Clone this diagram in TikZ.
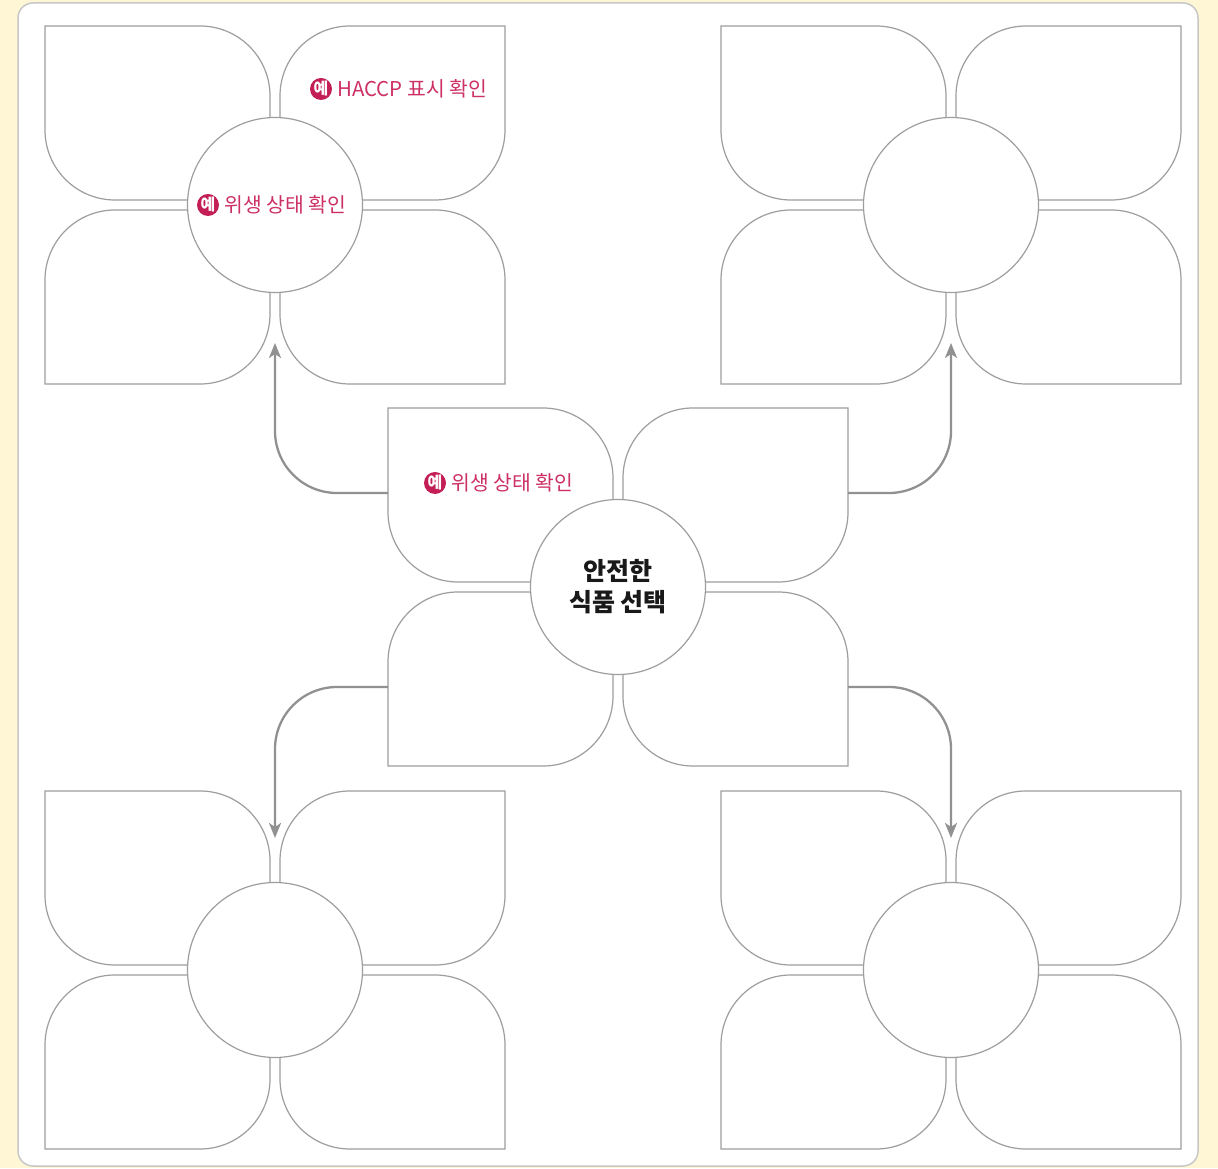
\documentclass[tikz,border=0pt]{standalone}
\usepackage{fontspec}
\setmainfont{Noto Sans CJK KR}
\usetikzlibrary{arrows.meta}
\definecolor{bgyellow}{RGB}{255,246,214}
\definecolor{petalgray}{RGB}{158,158,158}
\definecolor{flowgray}{RGB}{145,145,145}
\definecolor{crimson}{RGB}{196,30,86}
\definecolor{notepink}{RGB}{204,48,100}
\definecolor{ink}{RGB}{25,25,25}
\tikzset{
  petal/.style={draw=petalgray, line width=1.2pt, fill=white},
  hub/.style={circle, draw=petalgray, line width=1.2pt, fill=white, minimum size=175pt, inner sep=0pt},
  flow/.style={draw=flowgray, line width=2.3pt, rounded corners=62pt, -{Stealth[length=15pt,width=12pt,inset=4pt]}},
  badge/.style={circle, fill=crimson, text=white, inner sep=0pt, minimum size=22pt, font=\fontsize{16}{16}\selectfont\bfseries},
  note/.style={text=notepink, anchor=west, inner sep=0pt, font=\fontsize{20.4}{21}\selectfont},
  title/.style={text=ink, align=center, font=\fontsize{25}{31}\selectfont\bfseries}
}
\newcommand\flower[3]{%
  \draw[petal] ({#2-230},{#3+179}) -- ({#2-75},{#3+179}) arc[start angle=90,end angle=0,radius=70] -- ({#2-5},{#3+5}) -- ({#2-160},{#3+5}) arc[start angle=270,end angle=180,radius=70] -- cycle;
  \draw[petal] ({#2+230},{#3+179}) -- ({#2+75},{#3+179}) arc[start angle=90,end angle=180,radius=70] -- ({#2+5},{#3+5}) -- ({#2+160},{#3+5}) arc[start angle=270,end angle=360,radius=70] -- cycle;
  \draw[petal] ({#2-230},{#3-179}) -- ({#2-75},{#3-179}) arc[start angle=270,end angle=360,radius=70] -- ({#2-5},{#3-5}) -- ({#2-160},{#3-5}) arc[start angle=90,end angle=180,radius=70] -- cycle;
  \draw[petal] ({#2+230},{#3-179}) -- ({#2+75},{#3-179}) arc[start angle=270,end angle=180,radius=70] -- ({#2+5},{#3-5}) -- ({#2+160},{#3-5}) arc[start angle=90,end angle=0,radius=70] -- cycle;
  \node[hub] (#1) at (#2,#3) {};
}
\begin{document}
\begin{tikzpicture}[x=1pt,y=1pt]
\useasboundingbox (0,0) rectangle (1218,1168);
\fill[bgyellow] (0,0) rectangle (1218,1168);
\draw[draw=black!22, line width=1.5pt, fill=white, rounded corners=15pt] (18,2) rectangle (1198,1165);
% flowers
\flower{tl}{275}{963}
\flower{tr}{951}{963}
\flower{bl}{275}{198}
\flower{br}{951}{198}
\flower{ctr}{618}{581}
% center title
\node[title] (ttl) at (ctr) {안전한\\식품 선택};
% arrows
\coordinate (s1) at (388,675); \coordinate (e1) at (275,825);
\coordinate (s2) at (848,675); \coordinate (e2) at (951,825);
\coordinate (s3) at (388,481); \coordinate (e3) at (275,330);
\coordinate (s4) at (848,481); \coordinate (e4) at (951,330);
\draw[flow] (s1) -| (e1);
\draw[flow] (s2) -| (e2);
\draw[flow] (s3) -| (e3);
\draw[flow] (s4) -| (e4);
% example notes
\node[badge] (b1) at (321,1079) {예};
\node[note] (n1) at ([xshift=5pt]b1.east) {HACCP 표시 확인};
\node[badge] (b2) at (208,963) {예};
\node[note] (n2) at ([xshift=5pt]b2.east) {위생 상태 확인};
\node[badge] (b3) at (435,685) {예};
\node[note] (n3) at ([xshift=5pt]b3.east) {위생 상태 확인};
\end{tikzpicture}
\end{document}
